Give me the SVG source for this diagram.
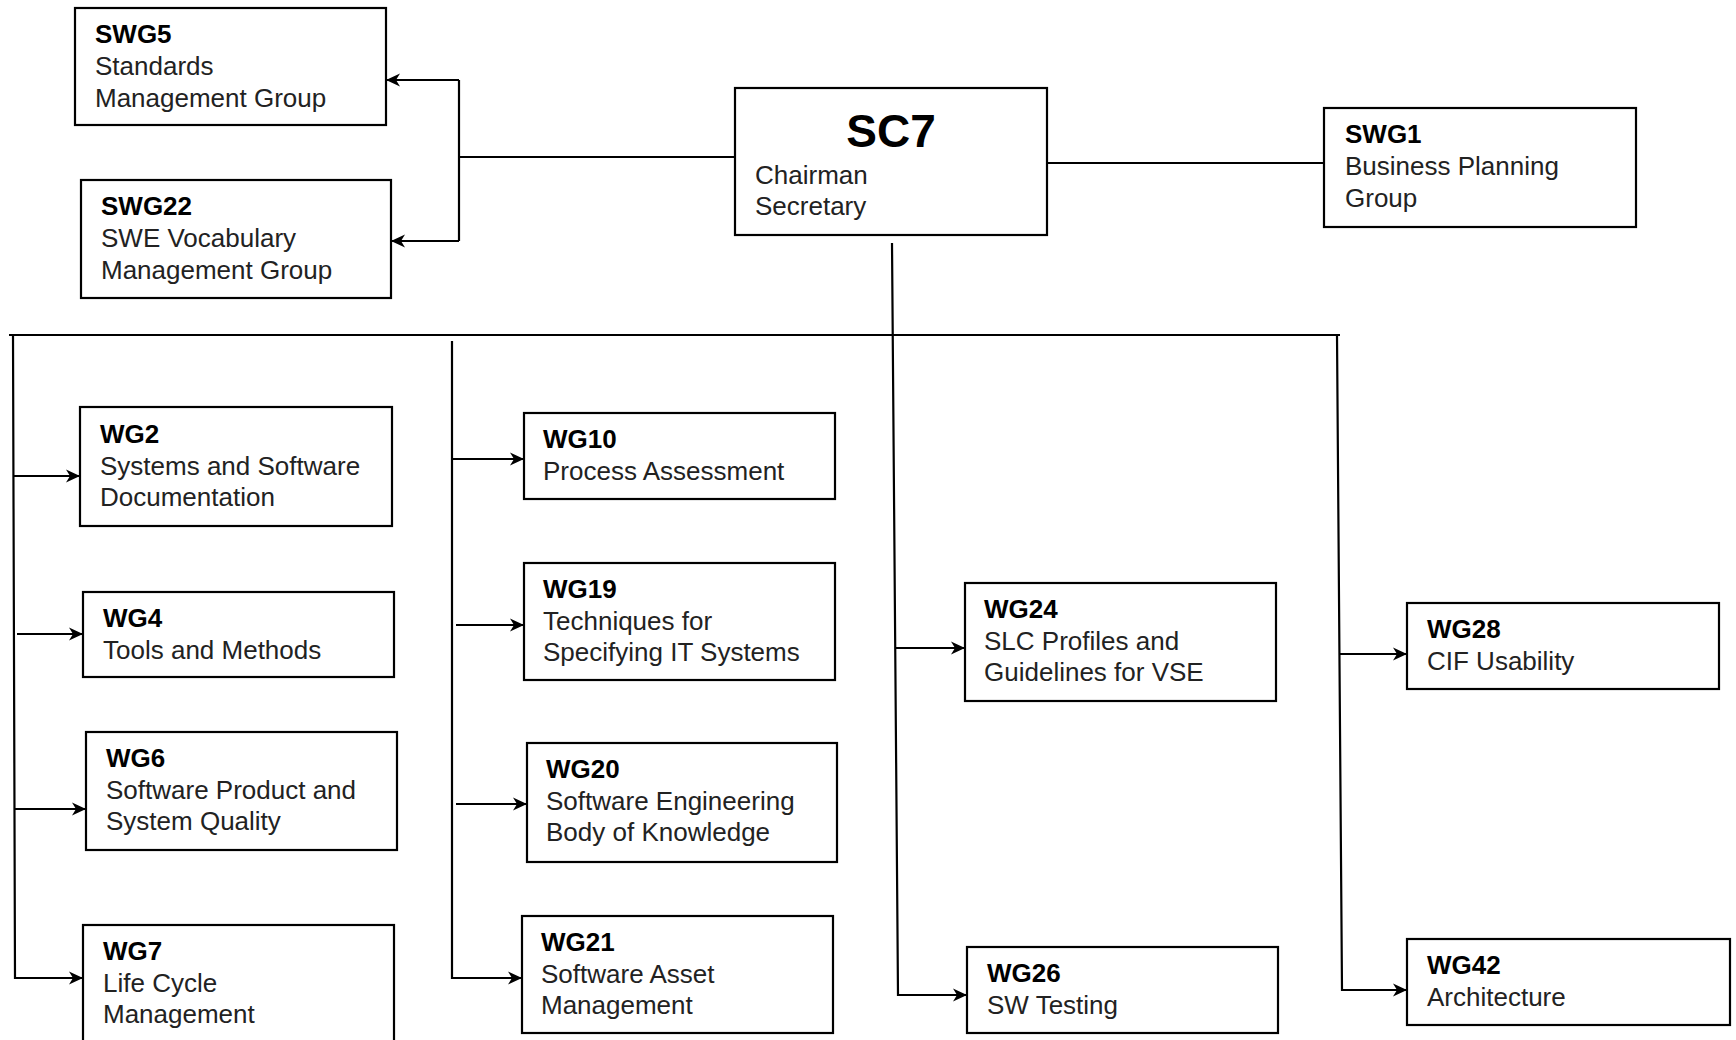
<svg xmlns="http://www.w3.org/2000/svg" width="1736" height="1040" viewBox="0 0 1736 1040">
<style>
.box{fill:#fff;stroke:#000;stroke-width:2.2}
.t{font-family:"Liberation Sans",Arial,sans-serif;font-size:26px;font-weight:bold;fill:#000}
.d{font-family:"Liberation Sans",Arial,sans-serif;font-size:26px;fill:#222}
.big{font-family:"Liberation Sans",Arial,sans-serif;font-size:46px;font-weight:bold;fill:#000}
.ln{fill:none;stroke:#000;stroke-width:2.2}
.ar{fill:none;stroke:#000;stroke-width:2.2;marker-end:url(#ah)}
</style>
<defs>
<marker id="ah" markerUnits="userSpaceOnUse" markerWidth="16" markerHeight="16" refX="14" refY="8" orient="auto">
<path d="M0,1.5 L14,8 L0,14.5 L4,8 z" fill="#000"/>
</marker>
</defs>
<rect width="1736" height="1040" fill="#fff"/>
<g id="connectors">
<path class="ln" d="M459,157 H735"/>
<path class="ln" d="M459,80 V241"/>
<path class="ar" d="M459,80 H386"/>
<path class="ar" d="M459,241 H391"/>
<path class="ln" d="M1047,163 H1324"/>
<path class="ln" d="M9,335 H1340"/>
<path class="ar" d="M13,335 L15,978 H83"/>
<path class="ar" d="M13,476 H80"/>
<path class="ar" d="M17,634 H83"/>
<path class="ar" d="M15,809 H86"/>
<path class="ar" d="M452,341 V978 H522"/>
<path class="ar" d="M452,459 H524"/>
<path class="ar" d="M456,625 H524"/>
<path class="ar" d="M456,804 H527"/>
<path class="ar" d="M892,243 L898,995 H967"/>
<path class="ar" d="M896,648 H965"/>
<path class="ar" d="M1337,335 L1342,990 H1407"/>
<path class="ar" d="M1340,654 H1407"/>
</g>
<g id="SWG5"><rect class="box" x="75" y="8" width="311" height="117"/><text class="t" x="95" y="43">SWG5</text><text class="d" x="95" y="75">Standards</text><text class="d" x="95" y="107">Management Group</text></g>
<g id="SWG22"><rect class="box" x="81" y="180" width="310" height="118"/><text class="t" x="101" y="215">SWG22</text><text class="d" x="101" y="247">SWE Vocabulary</text><text class="d" x="101" y="279">Management Group</text></g>
<g id="SC7"><rect class="box" x="735" y="88" width="312" height="147"/><text class="big" x="891" y="147" text-anchor="middle">SC7</text><text class="d" x="755" y="184">Chairman</text><text class="d" x="755" y="215">Secretary</text></g>
<g id="SWG1"><rect class="box" x="1324" y="108" width="312" height="119"/><text class="t" x="1345" y="143">SWG1</text><text class="d" x="1345" y="175">Business Planning</text><text class="d" x="1345" y="207">Group</text></g>
<g id="WG2"><rect class="box" x="80" y="407" width="312" height="119"/><text class="t" x="100" y="443">WG2</text><text class="d" x="100" y="475">Systems and Software</text><text class="d" x="100" y="506">Documentation</text></g>
<g id="WG4"><rect class="box" x="83" y="592" width="311" height="85"/><text class="t" x="103" y="627">WG4</text><text class="d" x="103" y="659">Tools and Methods</text></g>
<g id="WG6"><rect class="box" x="86" y="732" width="311" height="118"/><text class="t" x="106" y="767">WG6</text><text class="d" x="106" y="799">Software Product and</text><text class="d" x="106" y="830">System Quality</text></g>
<g id="WG7"><rect class="box" x="83" y="925" width="311" height="130"/><text class="t" x="103" y="960">WG7</text><text class="d" x="103" y="992">Life Cycle</text><text class="d" x="103" y="1023">Management</text></g>
<g id="WG10"><rect class="box" x="524" y="413" width="311" height="86"/><text class="t" x="543" y="448">WG10</text><text class="d" x="543" y="480">Process Assessment</text></g>
<g id="WG19"><rect class="box" x="524" y="563" width="311" height="117"/><text class="t" x="543" y="598">WG19</text><text class="d" x="543" y="630">Techniques for</text><text class="d" x="543" y="661">Specifying IT Systems</text></g>
<g id="WG20"><rect class="box" x="527" y="743" width="310" height="119"/><text class="t" x="546" y="778">WG20</text><text class="d" x="546" y="810">Software Engineering</text><text class="d" x="546" y="841">Body of Knowledge</text></g>
<g id="WG21"><rect class="box" x="522" y="916" width="311" height="117"/><text class="t" x="541" y="951">WG21</text><text class="d" x="541" y="983">Software Asset</text><text class="d" x="541" y="1014">Management</text></g>
<g id="WG24"><rect class="box" x="965" y="583" width="311" height="118"/><text class="t" x="984" y="618">WG24</text><text class="d" x="984" y="650">SLC Profiles and</text><text class="d" x="984" y="681">Guidelines for VSE</text></g>
<g id="WG26"><rect class="box" x="967" y="947" width="311" height="86"/><text class="t" x="987" y="982">WG26</text><text class="d" x="987" y="1014">SW Testing</text></g>
<g id="WG28"><rect class="box" x="1407" y="603" width="312" height="86"/><text class="t" x="1427" y="638">WG28</text><text class="d" x="1427" y="670">CIF Usability</text></g>
<g id="WG42"><rect class="box" x="1407" y="939" width="323" height="86"/><text class="t" x="1427" y="974">WG42</text><text class="d" x="1427" y="1006">Architecture</text></g>
</svg>
